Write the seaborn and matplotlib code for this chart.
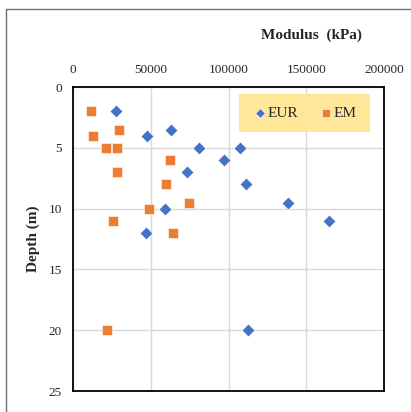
import matplotlib
matplotlib.use("Agg")
import matplotlib.pyplot as plt
from matplotlib.patches import Rectangle
import seaborn as sns
import pandas as pd

# values (modulus in kPa, depth in m)
eur_modulus = [27600, 47700, 63300, 81100, 107400, 96900, 73400,
               111500, 138500, 164400, 59100, 46700, 112600]
eur_depth = [2, 4, 3.5, 5, 5, 6, 7, 8, 9.5, 11, 10, 12, 20]
em_modulus = [11300, 12600, 29800, 21200, 28000, 28000, 62700,
              60100, 74500, 48800, 25500, 64400, 21600]
em_depth = [2, 4, 3.5, 5, 5, 7, 6, 8, 9.5, 10, 11, 12, 20]

x_ticks = [0, 50000, 100000, 150000, 200000]
y_ticks = [0, 5, 10, 15, 20, 25]

eur = pd.DataFrame({"Modulus": eur_modulus, "Depth": eur_depth})
em = pd.DataFrame({"Modulus": em_modulus, "Depth": em_depth})

sns.set_style("white")
plt.rcParams["font.family"] = ["Liberation Serif", "DejaVu Serif"]

fig = plt.figure(figsize=(4.11, 4.12), dpi=100)
ax = fig.add_axes([73 / 411, 1 - 391 / 412, 311 / 411, 304 / 412])

sns.scatterplot(data=eur, x="Modulus", y="Depth", marker="D", color="#4472C4",
                s=42, edgecolor="white", linewidth=0.4, ax=ax, zorder=3,
                label="EUR")
sns.scatterplot(data=em, x="Modulus", y="Depth", marker="s", color="#ED7D31",
                s=50, edgecolor="white", linewidth=0.4, ax=ax, zorder=3,
                label="EM")

ax.set_xlim(0, 200000)
ax.set_ylim(25, 0)
ax.set_xticks(x_ticks)
ax.set_yticks(y_ticks)
ax.xaxis.tick_top()
ax.tick_params(axis="both", length=0, labelsize=9.5, pad=8)
ax.grid(True, color="#D9D9D9", linewidth=1)
ax.set_axisbelow(True)
for sp in ax.spines.values():
    sp.set_color("black")
    sp.set_linewidth(1.3)
ax.set_xlabel("")
ax.set_ylabel("Depth (m)", fontsize=11, fontweight="bold", labelpad=6)

# yellow legend panel
ax.add_patch(Rectangle((0.534, 0.852), 0.421, 0.125, transform=ax.transAxes,
                       facecolor="#FFE699", edgecolor="none", zorder=4))
leg = ax.legend(loc="center", bbox_to_anchor=(0.7445, 0.9145), ncol=2,
                frameon=False, fontsize=11, handletextpad=0.0,
                columnspacing=1.3, markerscale=0.75, handlelength=1.0)
leg.set_zorder(5)

fig.text(311 / 411, 1 - 35 / 412, "Modulus  (kPa)", ha="center", va="center",
         fontsize=11, fontweight="bold")

fig.patches.append(Rectangle((6 / 411, -0.1), 1.2, 1.1 - 9 / 412,
                             transform=fig.transFigure, fill=False,
                             edgecolor="#707070", linewidth=1))

fig.savefig("out.png", dpi=100)
